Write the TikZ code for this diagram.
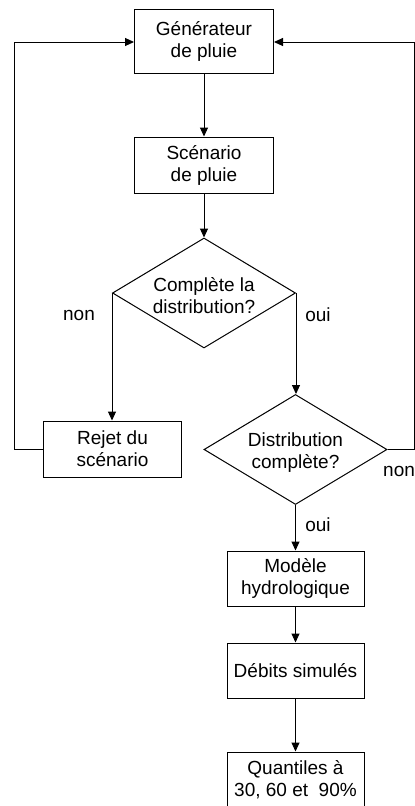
\documentclass[tikz,border=0pt]{standalone}
\usepackage{fontspec}
\setmainfont{Liberation Sans}
\usetikzlibrary{shapes.geometric,arrows.meta}
\begin{document}
\begin{tikzpicture}[x=1pt,y=-1pt,
  every node/.style={font=\fontsize{19}{22}\selectfont},
  box/.style={draw,line width=1pt,minimum width=139pt,inner sep=0pt,align=center},
  dia/.style={draw,line width=1pt,shape=diamond,minimum width=183pt,minimum height=110pt,inner sep=0pt},
  arr/.style={line width=1pt,-{Triangle[length=9pt,width=8pt]}},
  lbl/.style={inner sep=0pt,anchor=center}]
\useasboundingbox (0,0) rectangle (415,806);
\node[box,minimum height=64pt] (b1) at (204,41) {Générateur\\de pluie};
\node[box,minimum height=56pt] (b2) at (204,165) {Scénario\\de pluie};
\node[dia,label={[align=center,yshift=-3pt]center:Complète la\\distribution?}] (d1) at (204,293) {};
\node[box,minimum width=138pt,minimum height=56pt] (rej) at (112.5,449) {Rejet du\\scénario};
\node[dia,label={[align=center,yshift=-3pt]center:Distribution\\complète?}] (d2) at (295.5,449.5) {};
\node[box,minimum width=137pt,minimum height=55pt] (mod) at (295.5,578.5) {Modèle\\hydrologique};
\node[box,minimum width=137pt,minimum height=55pt] (deb) at (295.5,670.5) {Débits simulés};
\node[box,minimum width=137pt,minimum height=56pt] (qua) at (295.5,780) {Quantiles à\\30, 60 et\ \ 90\%};
\coordinate (L) at (14,0);
\coordinate (R) at (414,0);
\draw[arr] (b1.south) -- (b2.north);
\draw[arr] (b2.south) -- (d1.north);
\draw[arr] (d1.west) -- (d1.west |- rej.north);
\draw[arr] (d1.east) -- (d1.east |- d2.north);
\draw[arr] (rej.west) -- (rej.west -| L) |- ([yshift=-1pt]b1.west);
\draw[arr] (d2.east) -- (d2.east -| R) |- ([yshift=-1pt]b1.east);
\draw[arr] (d2.south) -- (mod.north);
\draw[arr] (mod.south) -- (deb.north);
\draw[arr] (deb.south) -- (qua.north);
\node[lbl] (n1) at (79,315) {non};
\node[lbl] (o1) at (318,315) {oui};
\node[lbl,anchor=west] (n2) at (383,471) {non};
\node[lbl] (o2) at (318,525) {oui};
\end{tikzpicture}
\end{document}
